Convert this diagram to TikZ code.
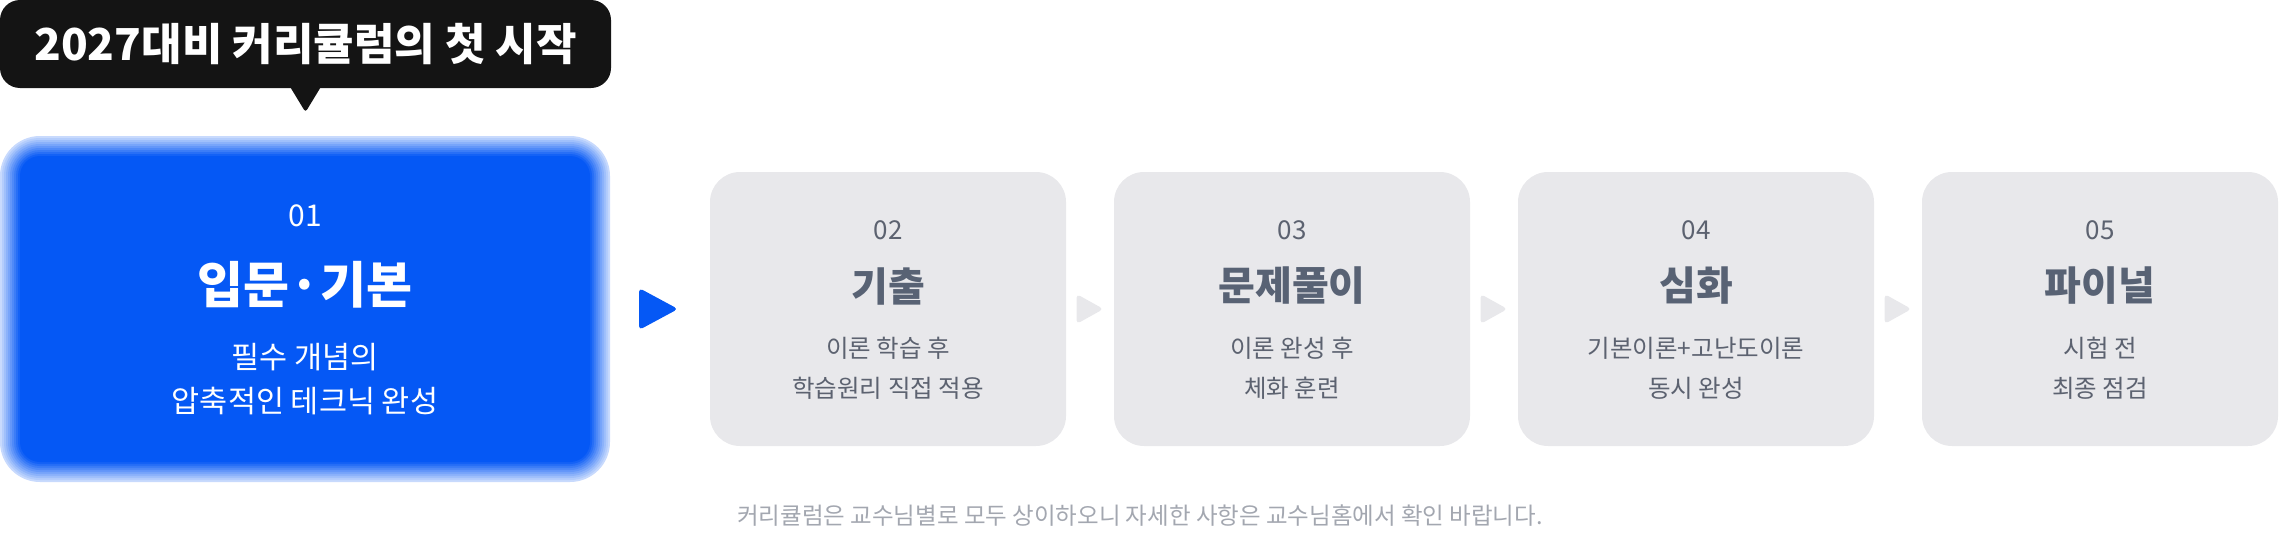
\documentclass[tikz,border=0pt]{standalone}
\usepackage{fontspec}
\setmainfont{Noto Sans CJK KR}
\usepackage{xcolor}
\usetikzlibrary{calc,positioning,shapes.geometric}
\definecolor{stepblue}{RGB}{5,88,245}
\definecolor{cardgray}{RGB}{232,232,235}
\definecolor{titlegray}{RGB}{88,98,116}
\definecolor{textgray}{RGB}{92,98,112}
\definecolor{notegray}{RGB}{163,167,176}
\definecolor{tagblack}{RGB}{20,20,20}
\tikzset{%
	tag/.style      = {rectangle, rounded corners=20pt, fill=tagblack, text=white, minimum width=611pt, minimum height=88pt, inner sep=0pt, font=\bfseries\fontsize{44}{50}\selectfont},
	card/.style     = {rectangle, rounded corners=30pt, fill=cardgray, minimum width=356pt, minimum height=274pt, inner sep=0pt},
	stepnum/.style  = {inner sep=0pt, text=textgray, font=\fontsize{26}{30}\selectfont},
	steptitle/.style= {inner sep=0pt, text=titlegray, font=\bfseries\fontsize{40}{46}\selectfont},
	steptext/.style = {inner sep=0pt, text=textgray, font=\fontsize{24.5}{28}\selectfont},
	marker/.style   = {fill=cardgray, rounded corners=4pt},
	note/.style     = {inner sep=0pt, text=notegray, font=\fontsize{23.5}{28}\selectfont},
}

\begin{document}
\begin{tikzpicture}[x=1pt,y=-1pt]
	\useasboundingbox (0,0) rectangle (2280,538);
	
	\node[tag] (tag) at (305.5,44) {2027대비 커리큘럼의 첫 시작};
	\fill[tagblack,rounded corners=3pt] ([xshift=-17pt,yshift=4pt]tag.south) -- ([yshift=-24pt]tag.south) -- ([xshift=17pt,yshift=4pt]tag.south) -- cycle;
	
	% first step, blurred blue card
	\foreach \k [evaluate=\k as \pct using 22+\k*8, evaluate=\k as \rr using 40-\k*2] in {0,...,9}
		\fill[stepblue!\pct!white,rounded corners=\rr pt] (\k*2,136+\k*2) rectangle (610-\k*2,482-\k*2);
	\fill[stepblue,rounded corners=20pt] (20,156) rectangle (590,462);
	\node[minimum width=610pt,minimum height=346pt,inner sep=0pt] (s01) at (305,309) {};
	\node[stepnum,text=white,font=\fontsize{30}{34}\selectfont] at (305,216) {01};
	\node[steptitle,text=white,font=\bfseries\fontsize{50}{56}\selectfont] at (305,285) {입문·기본};
	\node[steptext,text=white,font=\fontsize{30.5}{36}\selectfont] at (305,357) {필수 개념의};
	\node[steptext,text=white,font=\fontsize{30.5}{36}\selectfont] at (305,401) {압축적인 테크닉 완성};
	
	\foreach \x/\num/\ttl/\la/\lb in {888/02/기출/이론 학습 후/학습원리 직접 적용,1292/03/문제풀이/이론 완성 후/체화 훈련,1696/04/심화/기본이론+고난도이론/동시 완성,2100/05/파이널/시험 전/최종 점검} {
		\node[card] (s\num) at (\x,309) {};
		\node[stepnum] at (\x,230) {\num};
		\node[steptitle] at (\x,286) {\ttl};
		\node[steptext] at (\x,348) {\la};
		\node[steptext] at (\x,388) {\lb};
	}
	
	\fill[marker,fill=stepblue] ($(s01.east)!0.5!(s02.west)$) ++(-21,-21) -- ++(39,21) -- ++(-39,21) -- cycle;
	\foreach \a/\b in {02/03,03/04,04/05}
		\fill[marker] ($(s\a.east)!0.5!(s\b.west)$) ++(-13.5,-15) -- ++(27,15) -- ++(-27,15) -- cycle;
	
	\node[note] (note) at (1140,516) {커리큘럼은 교수님별로 모두 상이하오니 자세한 사항은 교수님홈에서 확인 바랍니다.};
\end{tikzpicture}
\end{document}
